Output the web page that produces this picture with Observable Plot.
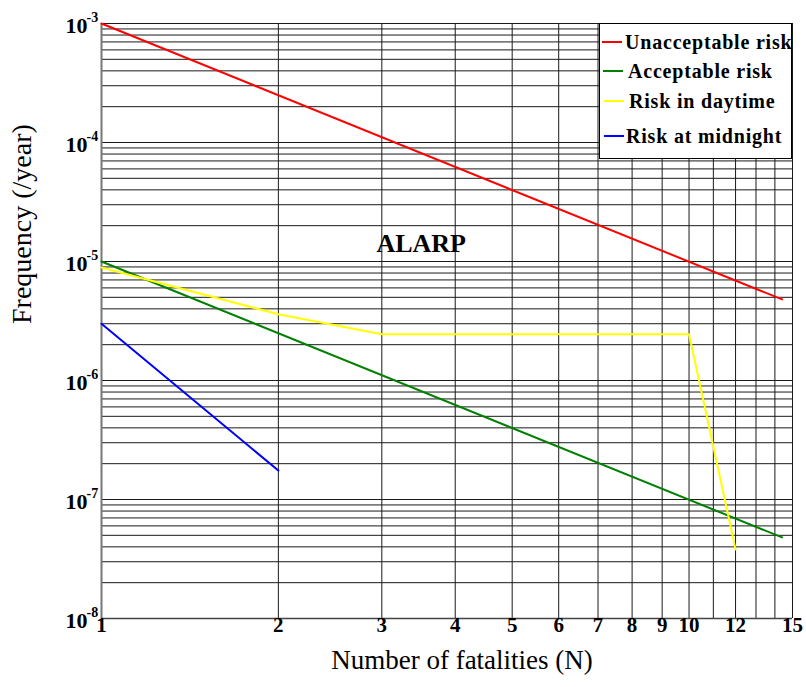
<!DOCTYPE html>
<html>
<head>
<meta charset="utf-8">
<script src="https://cdn.jsdelivr.net/npm/d3@7"></script>
<script src="https://cdn.jsdelivr.net/npm/@observablehq/plot@0.6"></script>
<style>
  html, body { margin: 0; padding: 0; background: #fff; }
  #wrap { position: relative; width: 806px; height: 687px; font-family: "Liberation Serif", "Times New Roman", serif; }
  #wrap svg { display: block; }
  g[aria-label="xticks"] text { letter-spacing: 1px; }
  g[aria-label="yticks-base"] text { letter-spacing: 2px; }
  g[aria-label="xtitle"] text { letter-spacing: 0.8px; }
  g[aria-label="alarp"] text { letter-spacing: 1.5px; }
  #legend { position: absolute; left: 599px; top: 23px; width: 193px; height: 136px; border: 1px solid #000; background: #fff; box-sizing: border-box; }
  .row { position: absolute; left: 0; height: 24px; display: flex; align-items: center; font-weight: bold; font-size: 20px; letter-spacing: 0.8px; white-space: nowrap; color: #000; }
  .sw { display: inline-block; width: 20px; height: 0; border-top: 2px solid; }
</style>
</head>
<body>
<div id="wrap"></div>
<script>
// ---- data ----
const unacceptN = [1, 14.4];
const unacceptF = [1e-3, 4.8e-6];
const acceptN = [1, 14.4];
const acceptF = [1e-5, 4.8e-8];
const daytimeN = [1, 2, 3, 10, 12];
const daytimeF = [8.9e-6, 3.6e-6, 2.45e-6, 2.45e-6, 3.8e-8];
const midnightN = [1, 2];
const midnightF = [3.0e-6, 1.75e-7];

const seriesNames = ["Unacceptable risk", "Acceptable risk", "Risk in daytime", "Risk at midnight"];
const seriesColors = ["#ff0000", "#008000", "#ffff00", "#0000ff"];

const xTicks = [1, 2, 3, 4, 5, 6, 7, 8, 9, 10, 12, 15];
const xGrid = [1, 2, 3, 4, 5, 6, 7, 8, 9, 10, 11, 12, 13, 14, 15];
const yExponents = [-3, -4, -5, -6, -7, -8];
const yMantissas = [1, 2, 3, 4, 5, 6, 7, 8, 9];
const annotations = [{text: "ALARP", n: 3.5, f: 1.42e-5}];

const xTitle = "Number of fatalities (N)";
const yTitle = "Frequency (/year)";

// ---- derived tables ----
const toRows = (ns, fs, name) => ns.map((n, i) => ({n, f: fs[i], name}));
const lines = [
  toRows(unacceptN, unacceptF, seriesNames[0]),
  toRows(acceptN, acceptF, seriesNames[1]),
  toRows(daytimeN, daytimeF, seriesNames[2]),
  toRows(midnightN, midnightF, seriesNames[3])
];
const yGrid = [1e-3];
for (const e of yExponents.slice(1)) for (const m of yMantissas) yGrid.push(m * Math.pow(10, e));
const decades = yExponents.map(e => ({v: Math.pow(10, e), e}));

const serif = "Liberation Serif, Times New Roman, serif";

const chart = Plot.plot({
  width: 806,
  height: 687,
  marginLeft: 101,
  marginRight: 14,
  marginTop: 23,
  marginBottom: 69,
  style: {fontFamily: serif, background: "#fff", color: "#000"},
  x: {type: "log", domain: [1, 15], axis: null},
  y: {type: "log", domain: [1e-8, 1e-3], axis: null},
  marks: [
    Plot.ruleY(yGrid, {y: d => d, stroke: "#1a1a1a", strokeWidth: 1}),
    Plot.ruleX(xGrid, {x: d => d, stroke: "#1a1a1a", strokeWidth: 1}),
    Plot.ruleX([1], {x: d => d, stroke: "#777", strokeWidth: 2}),
    Plot.ruleY([1e-8], {y: d => d, stroke: "#444", strokeWidth: 1.5}),
    ...lines.map((rows, i) => Plot.line(rows, {x: "n", y: "f", stroke: seriesColors[i], strokeWidth: 2})),
    Plot.text(xTicks, {ariaLabel: "xticks", x: d => d, frameAnchor: "bottom", dy: 13, text: d => String(d), fontSize: 21, fontWeight: "bold"}),
    Plot.text(decades, {ariaLabel: "yticks-base", frameAnchor: "left", y: "v", text: () => "10", textAnchor: "end", dx: -14, dy: 2, fontSize: 22, fontWeight: "bold"}),
    Plot.text(decades, {ariaLabel: "yticks-exp", frameAnchor: "left", y: "v", text: d => "-" + Math.abs(d.e), textAnchor: "start", dx: -15, dy: -6, fontSize: 14, fontWeight: "bold"}),
    Plot.text([xTitle], {ariaLabel: "xtitle", frameAnchor: "bottom", text: d => d, dx: 15, dy: 50, fontSize: 27}),
    Plot.text([yTitle], {ariaLabel: "ytitle", frameAnchor: "left", text: d => d, rotate: -90, dx: -79, dy: 3, fontSize: 28}),
    Plot.text(annotations, {ariaLabel: "alarp", x: "n", y: "f", text: "text", fontSize: 26, fontWeight: "bold"})
  ]
});

const wrap = document.getElementById("wrap");
wrap.appendChild(chart);

// legend overlay
const legend = document.createElement("div");
legend.id = "legend";
const rowTops = [6, 35, 65, 100];
const swLeft = [2, 3, 4, 4];
const txtGap = [3, 5, 5, 2];
seriesNames.forEach((name, i) => {
  const row = document.createElement("div");
  row.className = "row";
  row.style.top = rowTops[i] + "px";
  row.style.left = swLeft[i] + "px";
  const sw = document.createElement("span");
  sw.className = "sw";
  sw.style.borderColor = seriesColors[i];
  sw.style.marginRight = txtGap[i] + "px";
  const t = document.createElement("span");
  t.textContent = name;
  row.appendChild(sw);
  row.appendChild(t);
  legend.appendChild(row);
});
wrap.appendChild(legend);
</script>
</body>
</html>
